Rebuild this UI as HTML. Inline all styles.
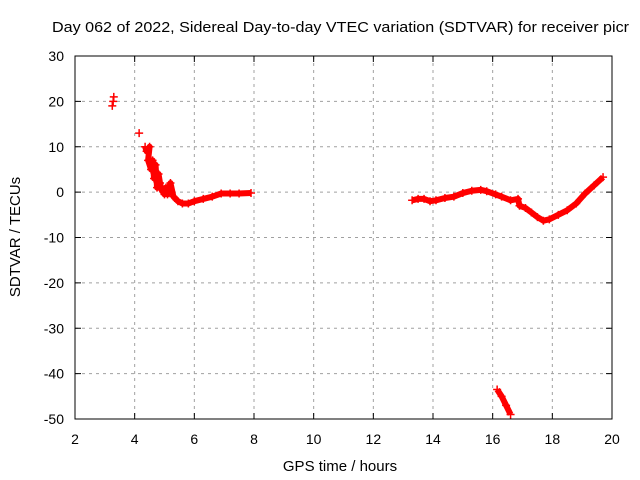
<!DOCTYPE html>
<html><head><meta charset="utf-8"><style>
body{margin:0;background:#fff;}
svg{display:block;font-family:"Liberation Sans",sans-serif;}
</style></head><body>
<svg id="chart" width="640" height="480">
<text x="52" y="32" font-size="15" textLength="577" lengthAdjust="spacingAndGlyphs" fill="#000">Day 062 of 2022, Sidereal Day-to-day VTEC variation (SDTVAR) for receiver picr</text>
<text x="340" y="471" font-size="15" text-anchor="middle">GPS time / hours</text>
<text x="20" y="237" font-size="15" text-anchor="middle" transform="rotate(-90 20 237)">SDTVAR / TECUs</text>
<g id="grid"></g>
<g id="ticks"></g>
<g id="marks"></g>
<rect x="75" y="56" width="537" height="363" fill="none" stroke="#000" stroke-width="1"/>
</svg>
<script>
const xTicks=[2,4,6,8,10,12,14,16,18,20];
const yTicks=[30,20,10,0,-10,-20,-30,-40,-50];
const seg1X=[3.25,3.28,3.3,4.15,4.35,4.4,4.5,4.45,4.55,4.6,4.65,4.7,4.75,4.8,4.85,4.9,5.0,5.05,5.1,5.2,5.3,5.45,5.6,5.8,6.0,6.3,6.6,6.9,7.2,7.5,7.9];
const seg1Y=[19,20,21,13,10,9,10,7,5,7,3,6,1,4,2,0.5,-0.5,1,-0.5,2,-1,-2,-2.5,-2.5,-2,-1.5,-1,-0.3,-0.3,-0.3,-0.2];
const seg2X=[13.3,13.5,13.7,13.9,14.1,14.4,14.7,15.0,15.3,15.6,15.8,16.1,16.3,16.6,16.85,16.9,17.1,17.3,17.5,17.7,17.9,18.2,18.5,18.8,19.1,19.4,19.7];
const seg2Y=[-1.8,-1.5,-1.5,-2,-1.8,-1.3,-1,-0.2,0.3,0.5,0.2,-0.5,-1,-1.8,-1.5,-3,-3.5,-4.5,-5.5,-6.3,-6,-5,-4,-2.5,-0.3,1.5,3.3];
const seg3X=[16.15,16.3,16.45,16.6];
const seg3Y=[-43.5,-45,-47,-49];
const X0=75,X1=612,Y0=419,Y1=56;
function sx(v){return X0+(v-2)/(20-2)*(X1-X0);}
function sy(v){return Y0-(v+50)/(30+50)*(Y0-Y1);}
const NS="http://www.w3.org/2000/svg";
function mk(t,a,p){const e=document.createElementNS(NS,t);for(const k in a)e.setAttribute(k,a[k]);p.appendChild(e);return e;}
const grid=document.getElementById('grid'),ticks=document.getElementById('ticks'),marks=document.getElementById('marks');
xTicks.forEach(v=>{const x=sx(v);
 if(v>2&&v<20){const g=mk('line',{x1:x,x2:x,y1:Y1,y2:Y0,stroke:'#a0a0a0','stroke-dasharray':'3,4'},grid);
 
 }
 mk('line',{x1:x,x2:x,y1:Y0,y2:Y0-6,stroke:'#000'},ticks);
 mk('line',{x1:x,x2:x,y1:Y1,y2:Y1+6,stroke:'#000'},ticks);
 const t=mk('text',{x:x,y:444,'font-size':14,'text-anchor':'middle'},ticks);t.textContent=v;
 
 });
yTicks.forEach(v=>{const y=sy(v);
 if(v<30&&v>-50){const g=mk('line',{x1:X0,x2:X1,y1:y,y2:y,stroke:'#a0a0a0','stroke-dasharray':'3,4'},grid);
 
 }
 mk('line',{x1:X0,x2:X0+6,y1:y,y2:y,stroke:'#000'},ticks);
 mk('line',{x1:X1,x2:X1-6,y1:y,y2:y,stroke:'#000'},ticks);
 const t=mk('text',{x:64,y:y+5,'font-size':14,'text-anchor':'end'},ticks);t.textContent=v;
 
 });
function seg(xs,ys,thick,name){
 if(thick){const pts=xs.map((x,i)=>sx(x)+','+sy(ys[i])).join(' ');
  const p=mk('polyline',{points:pts,fill:'none',stroke:'#f00','stroke-width':6,'stroke-linejoin':'round'},marks);
  
  }
 xs.forEach((x,i)=>{const cx=sx(x),cy=sy(ys[i]);
  const m=mk('path',{d:`M${cx-4},${cy}H${cx+4}M${cx},${cy-4}V${cy+4}`,stroke:'#f00','stroke-width':1.5},marks);
  
  });
}
seg(seg1X.slice(4),seg1Y.slice(4),true,'segment-morning');
seg(seg1X.slice(0,4),seg1Y.slice(0,4),false,'segment-early');
seg(seg2X,seg2Y,true,'segment-afternoon');
seg(seg3X,seg3Y,true,'segment-low');
</script>
</body></html>
